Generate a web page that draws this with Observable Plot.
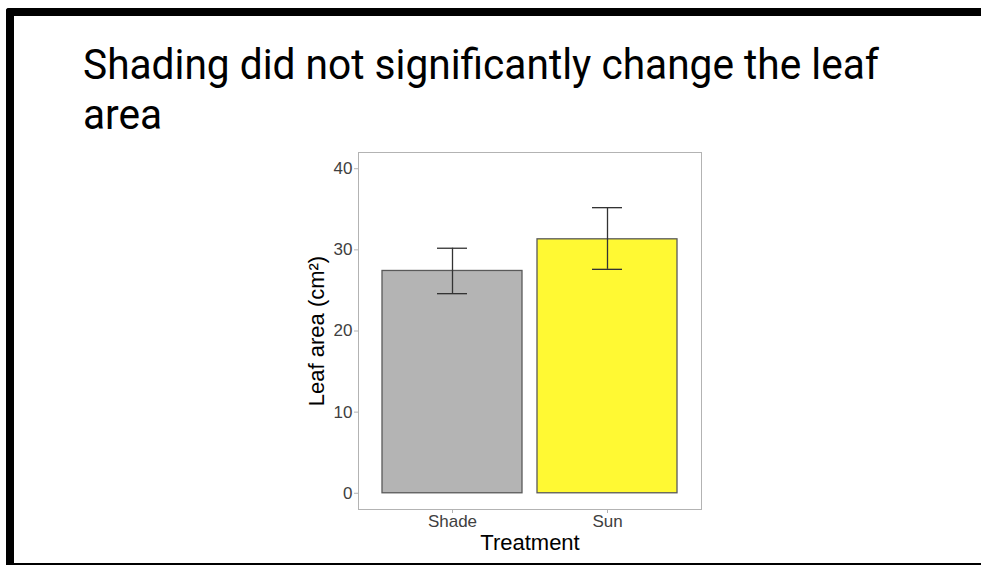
<!DOCTYPE html>
<html><head><meta charset="utf-8">
<script src="https://cdn.jsdelivr.net/npm/d3@7"></script>
<script src="https://cdn.jsdelivr.net/npm/@observablehq/plot@0.6"></script>
<style>
html,body{margin:0;padding:0;background:#fff;width:981px;height:565px;overflow:hidden;}
body{position:relative;}
.edge{position:absolute;background:#000;z-index:5}
#title{position:absolute;left:83px;top:40px;margin:0;font-family:Roboto,sans-serif;font-size:42px;line-height:50px;font-weight:400;color:#000;white-space:nowrap;transform-origin:0 0;}
#title span{display:block;}
#chart{position:absolute;left:260px;top:140px;}
</style></head><body>
<div class="edge" style="left:6px;top:8px;width:975px;height:8px;border-top-left-radius:3px"></div>
<div class="edge" style="left:6px;top:8px;width:8px;height:557px;border-top-left-radius:3px"></div>
<div class="edge" style="left:6px;top:563px;width:975px;height:2px"></div>
<h1 id="title"><span id="l1">Shading did not significantly change the leaf</span><span>area</span></h1>
<div id="chart"></div>
<script>
const treatments = ["Shade", "Sun"];
const meanArea = [27.4, 31.3];
const lowerArea = [24.6, 27.6];
const upperArea = [30.2, 35.2];
const yTicks = [0, 10, 20, 30, 40];
const barColors = ["#b4b4b4", "#fff933"];
const yLabel = "Leaf area (cm²)";
const xLabel = "Treatment";

const data = treatments.map((t, i) => ({treatment: t, mean: meanArea[i], lo: lowerArea[i], hi: upperArea[i]}));

const chart = Plot.plot({
  width: 460, height: 425,
  marginLeft: 98, marginRight: 19, marginTop: 12, marginBottom: 56,
  style: {fontFamily: "'Liberation Sans', Arial, sans-serif", background: "transparent", overflow: "visible"},
  x: {domain: treatments, paddingInner: 0.1, paddingOuter: 0.15, label: null},
  y: {domain: [-2, 42], label: null},
  color: {domain: treatments, range: barColors},
  marks: [
    Plot.frame({stroke: "#b3b3b3", strokeWidth: 1}),
    Plot.barY(data, {x: "treatment", y1: 0, y2: "mean", fill: "treatment", stroke: "#595959", strokeWidth: 1.3}),
    Plot.ruleX(data, {x: "treatment", y1: "lo", y2: "hi", stroke: "#333", strokeWidth: 1.3}),
    Plot.tickY(data, {x: "treatment", y: "lo", insetLeft: 55, insetRight: 55, stroke: "#333", strokeWidth: 1.3}),
    Plot.tickY(data, {x: "treatment", y: "hi", insetLeft: 55, insetRight: 55, stroke: "#333", strokeWidth: 1.3}),
    Plot.axisY({ticks: yTicks, tickSize: 4, tickPadding: 2, stroke: "#b3b3b3", fill: "#404040", fontSize: 17, label: null}),
    Plot.axisX({tickSize: 4, tickPadding: 1.5, stroke: "#b3b3b3", fill: "#404040", fontSize: 17, label: null}),
    Plot.text([yLabel], {frameAnchor: "left", rotate: -90, dx: -42, lineAnchor: "middle", textAnchor: "middle", fontSize: 22, fill: "#000"}),
    Plot.text([xLabel], {frameAnchor: "bottom", dy: 40, lineAnchor: "bottom", textAnchor: "middle", fontSize: 22, fill: "#000"})
  ]
});
document.getElementById("chart").appendChild(chart);

function fitTitle() {
  const t = document.getElementById("title");
  t.style.transform = "none";
  const range = document.createRange();
  range.selectNodeContents(document.getElementById("l1"));
  const tw = range.getBoundingClientRect().width || document.getElementById("l1").getBoundingClientRect().width;
  t.style.transform = `scaleX(${796 / tw})`;
}
fitTitle();
if (document.fonts && document.fonts.ready) document.fonts.ready.then(fitTitle);
</script>
</body></html>
